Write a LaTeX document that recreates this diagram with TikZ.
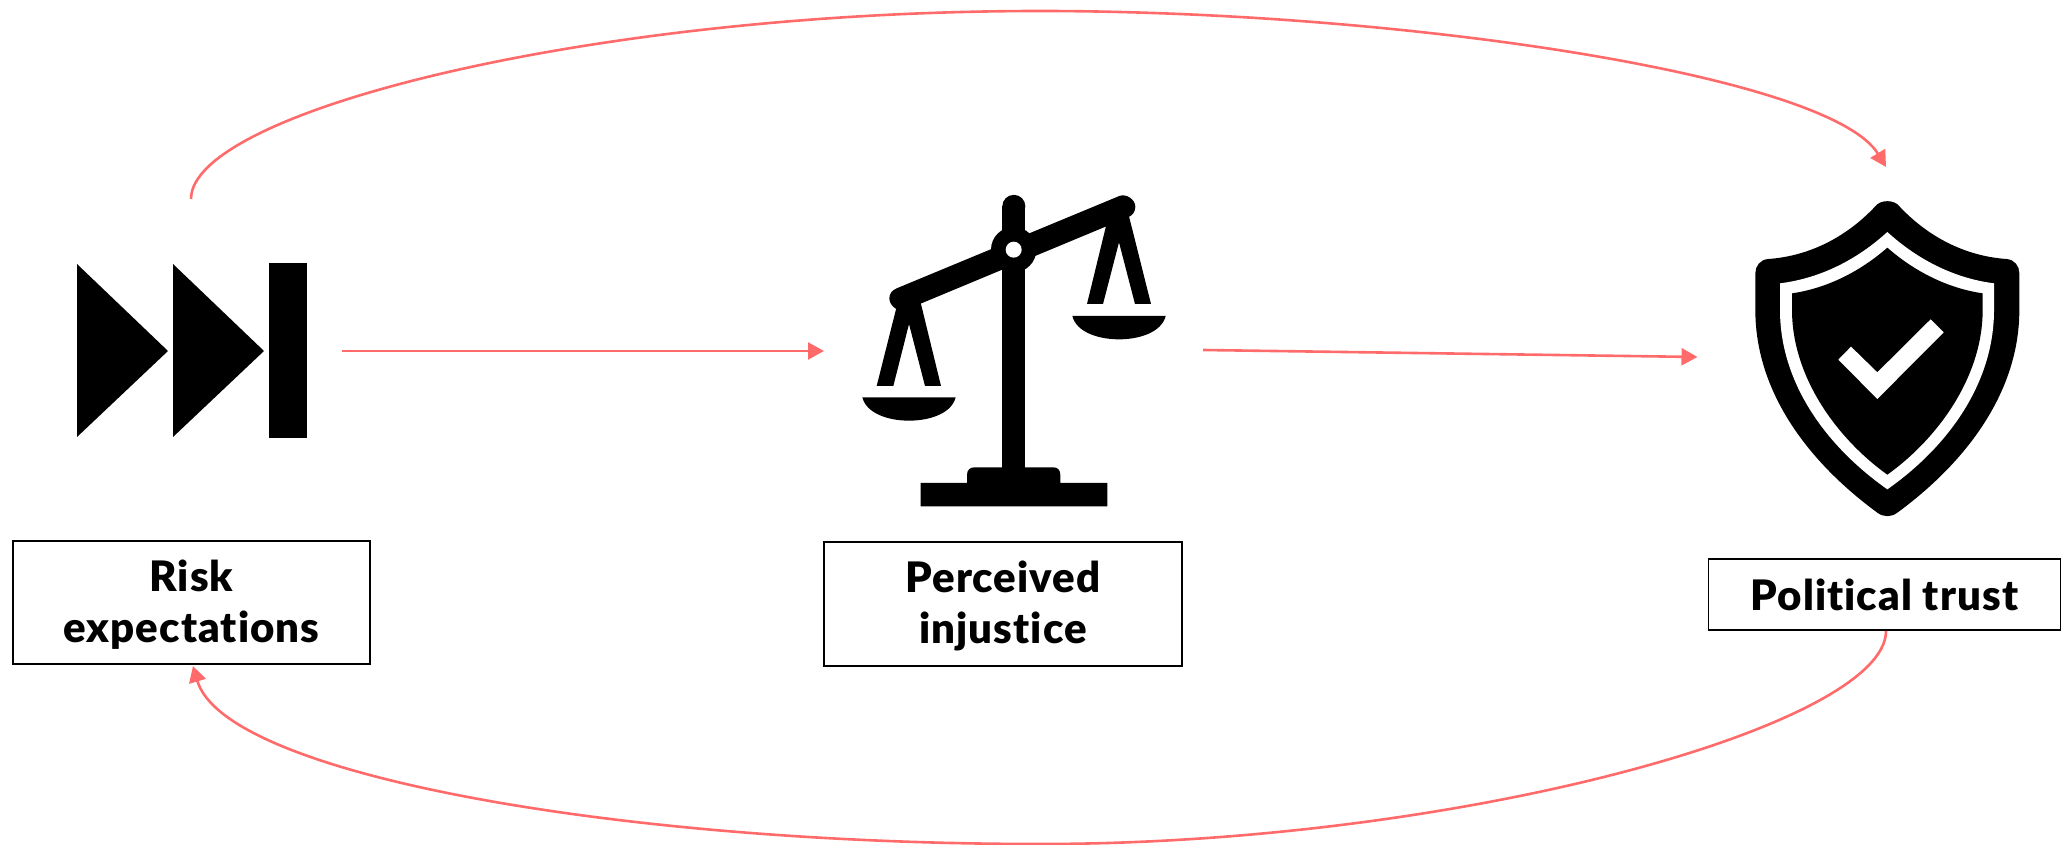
\documentclass[tikz,border=0pt]{standalone}
\usepackage{fontspec}
\setmainfont{Lato}[BoldFont={Lato Black},BoldFeatures={LetterSpace=2.5},Ligatures=NoCommon]
\usetikzlibrary{arrows.meta}
\definecolor{linkred}{HTML}{FF6B6B}
\tikzset{
  labelbox/.style={draw=black,line width=0.9pt,fill=white,align=center,inner sep=0pt,
    font=\fontsize{21}{25.5}\selectfont\bfseries,text=black},
  link/.style={draw=linkred,line width=1.3pt,-{Triangle[length=8pt,width=8.5pt,color=linkred]}},
  glyph/.style={fill=black,draw=none},
  hole/.style={fill=white,draw=none}
}
\begin{document}
\begin{tikzpicture}[x=0.5pt,y=-0.5pt]
\useasboundingbox (0,0) rectangle (2062,845);
% boxes
\node[labelbox,minimum width=178.5pt,minimum height=61.5pt] (risk) at (191.5,602.5) {\rule{0pt}{18pt}Risk\\expectations};
\node[labelbox,minimum width=179pt,minimum height=62pt] (injustice) at (1003,604) {\rule{0pt}{18pt}Perceived\\injustice};
\node[labelbox,minimum width=176pt,minimum height=35.5pt] (trust) at (1884.5,594.5) {Political trust};
% fast-forward icon
\fill[glyph] (77,264) -- (168,351) -- (77,437) -- cycle;
\fill[glyph] (173,264) -- (264,351) -- (173,437) -- cycle;
\fill[glyph] (269,263) rectangle (307,438);
% scales icon
\begin{scope}[shift={(840,180)},scale=0.33333]
\fill[glyph] (487,79) rectangle (556,870);
\fill[glyph] (521.5,79) circle[radius=34.5];
\fill[glyph] (521,209) circle[radius=68];
\fill[glyph] (170,325) -- (838,48) .. controls (858,40) and (886,58) .. (886,80) .. controls (886,95) and (878,106) .. (864,112) -- (196,390) .. controls (176,398) and (148,378) .. (148,355) .. controls (148,342) and (156,331) .. (170,325) -- cycle;
\fill[hole] (521,209) circle[radius=24];
\fill[glyph] (170,380) -- (110,618) -- (160,618) -- (207,432) -- (255,618) -- (303,618) -- (240,360) -- cycle;
\fill[glyph] (800,130) -- (741,372) -- (789,372) -- (837,187) -- (885,372) -- (933,372) -- (866,105) -- cycle;
\fill[glyph] (67,652) -- (347,652) .. controls (335,700) and (270,722) .. (207,722) .. controls (144,722) and (79,700) .. (67,652) -- cycle;
\fill[glyph] (697,408) -- (977,408) .. controls (965,456) and (900,478) .. (837,478) .. controls (774,478) and (709,456) .. (697,408) -- cycle;
\fill[glyph] (242,909) -- (381,909) -- (381,885) .. controls (381,870) and (390,862) .. (403,862) -- (640,862) .. controls (653,862) and (661,870) .. (661,885) -- (661,909) -- (802,909) -- (802,979) -- (242,979) -- cycle;
\end{scope}
% shield icon
\begin{scope}[shift={(1740,130)},scale=0.33333]
\fill[glyph] (405,230) .. controls (420,208) and (464,208) .. (479,230)
  .. controls (564,320) and (674,378) .. (799,387)
  .. controls (824,389) and (838,408) .. (838,430) -- (838,540)
  .. controls (838,790) and (674,1000) .. (472,1148)
  .. controls (454,1162) and (430,1162) .. (412,1148)
  .. controls (210,1000) and (46,790) .. (46,540) -- (46,430)
  .. controls (46,408) and (60,389) .. (85,387)
  .. controls (210,378) and (320,320) .. (405,230) -- cycle;
\fill[hole] (442,306) .. controls (534,390) and (644,445) .. (762,460) -- (762,540)
  .. controls (762,760) and (624,950) .. (442,1078)
  .. controls (260,950) and (120,760) .. (120,540) -- (120,460)
  .. controls (240,445) and (350,390) .. (442,306) -- cycle;
\fill[glyph] (442,353) .. controls (524,425) and (624,475) .. (728,490) -- (728,540)
  .. controls (728,740) and (594,925) .. (442,1034)
  .. controls (290,925) and (156,740) .. (156,540) -- (156,490)
  .. controls (260,475) and (360,425) .. (442,353) -- cycle;
\fill[hole] (295,689) -- (333,650) -- (412,727) -- (572,568) -- (611,607) -- (412,807) -- cycle;
\end{scope}
% connector end points
\coordinate (ffTop) at (191,199);
\coordinate (shieldTop) at (1886,167);
\coordinate (ffRight) at (342,351);
\coordinate (scaleLeft) at (824,351);
\coordinate (scaleRight) at (1203,350);
\coordinate (shieldLeft) at (1697.5,357);
\coordinate (riskIn) at (193,666);
\coordinate (trustOut) at (1886,631);
% connectors
\draw[link] (ffRight) -- (scaleLeft);
\draw[link] (scaleRight) -- (shieldLeft);
\draw[link] (ffTop) .. controls (191,112) and (590,11) .. (1040,11) .. controls (1400,11) and (1830,75) .. (shieldTop);
\draw[link] (trustOut) .. controls (1886,725) and (1460,844) .. (1040,844) .. controls (620,844) and (225,775) .. (riskIn);
\end{tikzpicture}
\end{document}
